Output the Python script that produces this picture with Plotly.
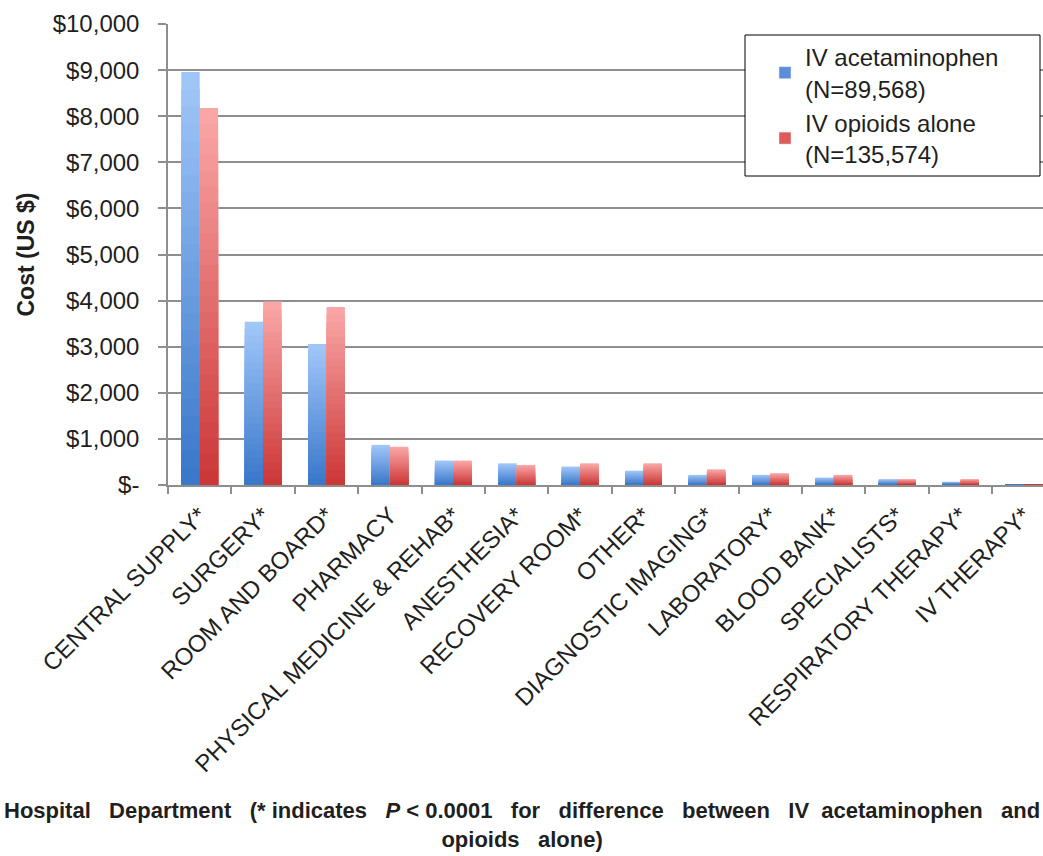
import plotly.graph_objects as go

# Mean cost per hospital department, by analgesic group
departments = [
    "CENTRAL SUPPLY*", "SURGERY*", "ROOM AND BOARD*", "PHARMACY",
    "PHYSICAL MEDICINE & REHAB*", "ANESTHESIA*", "RECOVERY ROOM*", "OTHER*",
    "DIAGNOSTIC IMAGING*", "LABORATORY*", "BLOOD BANK*", "SPECIALISTS*",
    "RESPIRATORY THERAPY*", "IV THERAPY*",
]
iv_acetaminophen = [8960, 3540, 3060, 870, 530, 470, 400, 310, 220, 220, 160, 125, 70, 5]
iv_opioids_alone = [8180, 3980, 3860, 830, 530, 435, 470, 470, 340, 255, 220, 125, 125, 5]

series_names = ["IV acetaminophen<br>(N=89,568)", "IV opioids alone<br>(N=135,574)"]
y_tick_vals = [0, 1000, 2000, 3000, 4000, 5000, 6000, 7000, 8000, 9000, 10000]
y_tick_text = ["$-", "$1,000", "$2,000", "$3,000", "$4,000", "$5,000",
               "$6,000", "$7,000", "$8,000", "$9,000", "$10,000"]

FONT = "Liberation Sans, Arial, sans-serif"
TEXT = "#1f1f1f"
GRID = "#8e8e8e"

# plot-area geometry (pixels) used to place the legend frame in paper units
PLOT_L, PLOT_W, PLOT_T, PLOT_H = 168, 875, 24, 461

# light-top / dark-bottom shading for each series
shades = {
    0: ((160, 198, 248), (58, 120, 202)),
    1: ((250, 166, 166), (204, 56, 56)),
}
legend_colors = ["#5a8fd8", "#df5b5b"]
BAR_W = 0.29
offsets = [-BAR_W, 0.0]
N_LAYERS = 24


def mix(c0, c1, t):
    return "rgb({},{},{})".format(*[round(a + (b - a) * t) for a, b in zip(c0, c1)])


def px_x(px):
    return (px - PLOT_L) / PLOT_W


def px_y(px):
    return (PLOT_T + PLOT_H - px) / PLOT_H


fig = go.Figure()
for s, values in enumerate([iv_acetaminophen, iv_opioids_alone]):
    top, bottom = shades[s]
    # stacked layers from the base: each shorter layer is darker, giving a vertical gradient
    for k in range(N_LAYERS):
        frac = (N_LAYERS - k) / N_LAYERS
        fig.add_trace(go.Bar(
            x=departments,
            y=[v * frac for v in values],
            offset=offsets[s],
            width=BAR_W,
            marker=dict(color=mix(top, bottom, k / (N_LAYERS - 1)), line=dict(width=0)),
            name=series_names[s],
            legendgroup=f"s{s}",
            showlegend=False,
            hoverinfo="skip",
        ))
    # legend entry
    fig.add_trace(go.Bar(
        x=[None], y=[None],
        marker=dict(color=legend_colors[s]),
        name=series_names[s],
        legendgroup=f"s{s}",
        showlegend=True,
    ))

NB = "\u00a0"
G = NB * 3
x_title = (
    f"<b>Hospital{G}Department{G}(*{NB}indicates{G}<i>P</i>{NB}<{NB}0.0001{G}for{G}difference"
    f"{G}between{G}IV{NB}{NB}acetaminophen{G}and<br>opioids{G}alone)</b>"
)

fig.update_layout(
    width=1043, height=856,
    barmode="overlay",
    plot_bgcolor="white", paper_bgcolor="white",
    margin=dict(l=PLOT_L, r=0, t=PLOT_T, b=856 - PLOT_T - PLOT_H),
    font=dict(family=FONT, size=24, color=TEXT),
    showlegend=True,
    legend=dict(
        x=px_x(745), y=px_y(35), xanchor="left", yanchor="top",
        bgcolor="rgba(0,0,0,0)", borderwidth=0,
        font=dict(size=24, color=TEXT),
        itemwidth=30,
        indentation=20,
        tracegroupgap=0,
    ),
    # legend frame
    shapes=[dict(
        type="rect", xref="paper", yref="paper", layer="above",
        x0=px_x(745), x1=px_x(1040), y0=px_y(176), y1=px_y(35),
        fillcolor="white", line=dict(color="#000000", width=1),
    )],
    xaxis=dict(
        range=[-0.5, 13.3],
        tickangle=-45,
        tickfont=dict(size=24, color=TEXT),
        showgrid=False,
        showline=True, linecolor=GRID, linewidth=1.5,
        ticks="outside", tickson="boundaries", ticklen=7, tickcolor=GRID, tickwidth=1.5,
        ticklabelstandoff=5,
    ),
    yaxis=dict(
        range=[0, 10000],
        tickvals=y_tick_vals, ticktext=y_tick_text,
        tickfont=dict(size=24, color=TEXT),
        showgrid=True, gridcolor=GRID, gridwidth=1.5,
        zeroline=False,
        showline=True, linecolor=GRID, linewidth=1.5,
        ticks="outside", ticklen=8, tickcolor=GRID, tickwidth=1.5,
        ticklabelstandoff=14,
    ),
    annotations=[
        dict(
            text="<b>Cost (US $)</b>",
            xref="paper", yref="paper", x=px_x(25), y=0.5,
            xanchor="center", yanchor="middle", textangle=-90,
            showarrow=False, font=dict(size=23, color=TEXT),
        ),
        dict(
            text=x_title,
            xref="paper", yref="paper", x=px_x(1043 / 2), y=-0.675,
            xanchor="center", yanchor="top", align="center",
            showarrow=False, font=dict(size=22, color=TEXT),
        ),
    ],
)

fig.write_html("out.html")
